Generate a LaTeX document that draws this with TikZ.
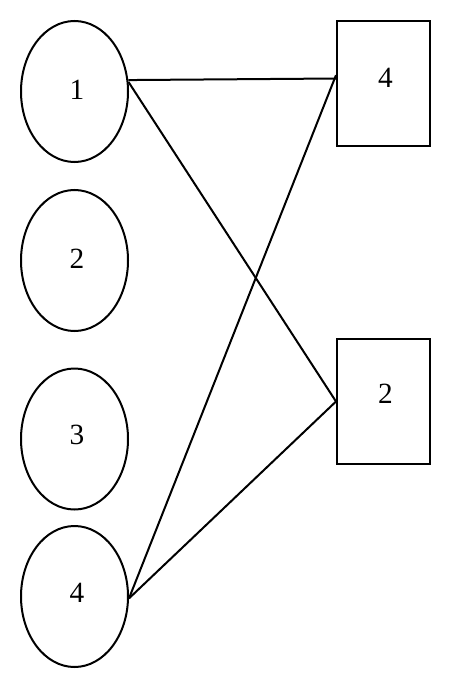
\documentclass[tikz,border=0pt]{standalone}
\usepackage{fontspec}
\setmainfont{Liberation Serif}
\usetikzlibrary{shapes.geometric}
\begin{document}
\begin{tikzpicture}[x=0.75pt,y=-0.75pt,
  oval/.style={ellipse,draw,line width=1.5pt,minimum width=80.25pt,minimum height=105.75pt,inner sep=0pt},
  boxnode/.style={rectangle,draw,line width=1.5pt,minimum width=69.75pt,minimum height=93.75pt,inner sep=0pt},
  lbl/.style={font=\fontsize{22}{26}\selectfont,inner sep=0pt},
  edge/.style={line width=1.5pt}]
\useasboundingbox (0,0) rectangle (451,688);
\node[oval] (e1) at (74.5,91.5) {};
\node[oval] (e2) at (74.5,260.5) {};
\node[oval] (e3) at (74.5,439) {};
\node[oval] (e4) at (74.5,596.5) {};
\node[boxnode] (b4) at (383.5,83.5) {};
\node[boxnode] (b2) at (383.5,401.5) {};
\node[lbl] (t1) at (77,90) {1};
\node[lbl] (t2) at (77,259) {2};
\node[lbl] (t3) at (77,435) {3};
\node[lbl] (t4) at (77,593) {4};
\node[lbl] (tb4) at (385.5,78) {4};
\node[lbl] (tb2) at (385.5,394) {2};
\draw[edge] (e1.12) -- (b4.174);
\draw[edge] (e1.10) -- (b2.west);
\draw[edge] (e4.-2) -- (b4.170);
\draw[edge] (e4.-2) -- (b2.west);
\end{tikzpicture}
\end{document}
